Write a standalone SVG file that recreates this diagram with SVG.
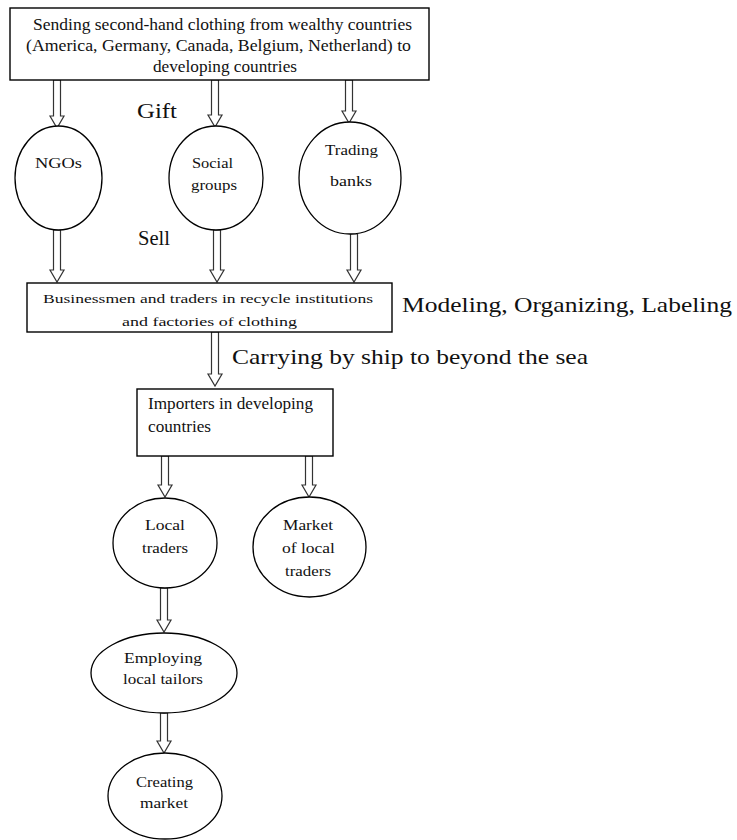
<svg xmlns="http://www.w3.org/2000/svg" width="737" height="840" viewBox="0 0 737 840">
<style>
  .box { fill: #ffffff; stroke: #000000; stroke-width: 1.4; }
  .ell { fill: #ffffff; stroke: #000000; stroke-width: 1.3; }
  .arr { fill: #ffffff; stroke: #333333; stroke-width: 1.2; stroke-linejoin: miter; }
  text { font-family: 'Liberation Serif', 'DejaVu Serif', 'Times New Roman', serif; fill: #111111; }
  .t { text-anchor: middle; font-size: 15px; }
  .s16 { font-size: 16px; }
  .s13 { font-size: 13.5px; }
  .big { font-size: 22px; }
</style>
<rect width="737" height="840" fill="#ffffff"/>

<g id="connectors">
  <polygon class="arr" points="53.5,80 60.5,80 60.5,116 64,116 57,128 50,116 53.5,116"/>
  <polygon class="arr" points="211.5,80 218.5,80 218.5,115 222,115 215,127 208,115 211.5,115"/>
  <polygon class="arr" points="345.5,80 352.5,80 352.5,111 356,111 349,123 342,111 345.5,111"/>
  <polygon class="arr" points="53.5,230 60.5,230 60.5,270 64,270 57,282 50,270 53.5,270"/>
  <polygon class="arr" points="213.5,230 220.5,230 220.5,270 224,270 217,282 210,270 213.5,270"/>
  <polygon class="arr" points="350.5,234 357.5,234 357.5,270 361,270 354,282 347,270 350.5,270"/>
  <polygon class="arr" points="211.5,332 218.5,332 218.5,374 222,374 215,386 208,374 211.5,374"/>
  <polygon class="arr" points="161.5,456 168.5,456 168.5,485 172,485 165,497 158,485 161.5,485"/>
  <polygon class="arr" points="305.5,456 312.5,456 312.5,485 316,485 309,497 302,485 305.5,485"/>
  <polygon class="arr" points="160.5,588 167.5,588 167.5,620 171,620 164,632 157,620 160.5,620"/>
  <polygon class="arr" points="160.5,713 167.5,713 167.5,741 171,741 164,753 157,741 160.5,741"/>
</g>

<g id="node-top">
  <rect class="box" x="10" y="8" width="419" height="72"/>
  <text class="t s16" x="222.5" y="30" textLength="379" lengthAdjust="spacingAndGlyphs">Sending second-hand clothing from wealthy countries</text>
  <text class="t s16" x="218.5" y="51" textLength="385" lengthAdjust="spacingAndGlyphs">(America, Germany, Canada, Belgium, Netherland) to</text>
  <text class="t s16" x="225" y="72" textLength="144" lengthAdjust="spacingAndGlyphs">developing countries</text>
</g>

<g id="label-gift"><text class="big" x="137" y="118" textLength="40" lengthAdjust="spacingAndGlyphs">Gift</text></g>

<g id="node-ngos">
  <ellipse class="ell" cx="58.5" cy="178" rx="43.5" ry="52"/>
  <text class="t" x="58.5" y="168" textLength="47" lengthAdjust="spacingAndGlyphs">NGOs</text>
</g>

<g id="node-social">
  <ellipse class="ell" cx="216" cy="178" rx="47" ry="52"/>
  <text class="t" x="212.5" y="168" textLength="41" lengthAdjust="spacingAndGlyphs">Social</text>
  <text class="t" x="214" y="190" textLength="46" lengthAdjust="spacingAndGlyphs">groups</text>
</g>

<g id="node-trading">
  <ellipse class="ell" cx="350" cy="178" rx="51" ry="56"/>
  <text class="t" x="351.5" y="155" textLength="53" lengthAdjust="spacingAndGlyphs">Trading</text>
  <text class="t" x="351" y="186" textLength="42" lengthAdjust="spacingAndGlyphs">banks</text>
</g>

<g id="label-sell"><text class="big" x="138" y="245" style="font-size:20px" textLength="32" lengthAdjust="spacingAndGlyphs">Sell</text></g>

<g id="node-business">
  <rect class="box" x="27" y="283" width="365" height="49"/>
  <text class="t s13" x="208" y="303" textLength="330" lengthAdjust="spacingAndGlyphs">Businessmen and traders in recycle institutions</text>
  <text class="t s13" x="209.5" y="326" textLength="175" lengthAdjust="spacingAndGlyphs">and factories of clothing</text>
</g>

<g id="label-modeling"><text class="big" x="402" y="312" textLength="330" lengthAdjust="spacingAndGlyphs">Modeling, Organizing, Labeling</text></g>

<g id="label-carrying"><text class="big" x="232" y="364" textLength="356" lengthAdjust="spacingAndGlyphs">Carrying by ship to beyond the sea</text></g>

<g id="node-importers">
  <rect class="box" x="137" y="389" width="196" height="67"/>
  <text x="148" y="409" style="font-size:16px" textLength="165" lengthAdjust="spacingAndGlyphs">Importers in developing</text>
  <text x="148" y="432" style="font-size:16px" textLength="63" lengthAdjust="spacingAndGlyphs">countries</text>
</g>

<g id="node-local">
  <ellipse class="ell" cx="165" cy="543" rx="52" ry="45"/>
  <text class="t" x="165" y="530" textLength="40" lengthAdjust="spacingAndGlyphs">Local</text>
  <text class="t" x="165" y="553" textLength="46" lengthAdjust="spacingAndGlyphs">traders</text>
</g>

<g id="node-market">
  <ellipse class="ell" cx="309.5" cy="547" rx="56.5" ry="50"/>
  <text class="t" x="308" y="530" textLength="50" lengthAdjust="spacingAndGlyphs">Market</text>
  <text class="t" x="308.5" y="553" textLength="53" lengthAdjust="spacingAndGlyphs">of local</text>
  <text class="t" x="308" y="576" textLength="46" lengthAdjust="spacingAndGlyphs">traders</text>
</g>

<g id="node-employing">
  <ellipse class="ell" cx="164" cy="673" rx="73" ry="40"/>
  <text class="t" x="163" y="663" textLength="78" lengthAdjust="spacingAndGlyphs">Employing</text>
  <text class="t" x="163" y="684" textLength="80" lengthAdjust="spacingAndGlyphs">local tailors</text>
</g>

<g id="node-creating">
  <ellipse class="ell" cx="165" cy="796" rx="57" ry="43"/>
  <text class="t" x="164.5" y="787" textLength="57" lengthAdjust="spacingAndGlyphs">Creating</text>
  <text class="t" x="164" y="808" textLength="48" lengthAdjust="spacingAndGlyphs">market</text>
</g>
</svg>
